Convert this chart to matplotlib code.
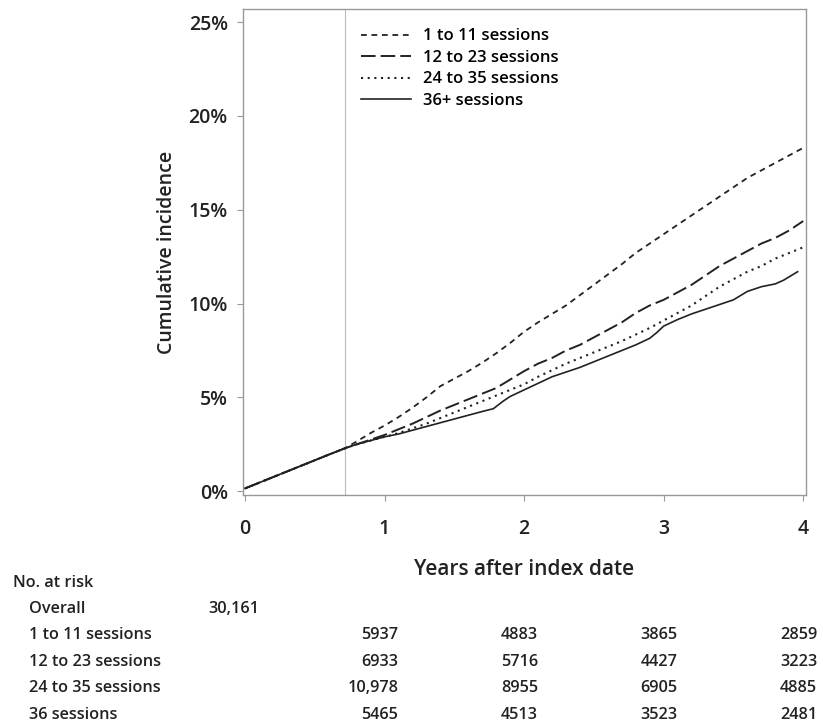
import matplotlib
matplotlib.use("Agg")
import matplotlib.pyplot as plt
from matplotlib.transforms import blended_transform_factory
import numpy as np

plt.rcParams["font.family"] = ["Open Sans", "DejaVu Sans"]
plt.rcParams["font.weight"] = "semibold"
plt.rcParams["axes.labelweight"] = "semibold"

# shared part of the curve before the split (years, %)
t_common = [0.0, 0.1, 0.2, 0.3, 0.4, 0.5, 0.6, 0.72]
y_common = [0.15, 0.45, 0.75, 1.05, 1.35, 1.65, 1.95, 2.3]

t_grp = [0.8, 0.9, 1.0, 1.1, 1.2, 1.3, 1.4, 1.5, 1.6, 1.7, 1.8, 1.9, 2.0,
         2.1, 2.2, 2.3, 2.4, 2.5, 2.6, 2.7, 2.8, 2.9, 3.0, 3.1, 3.2, 3.3,
         3.4, 3.5, 3.6, 3.7, 3.8, 3.9, 4.0]
y_1_11 = [2.65, 3.1, 3.5, 3.95, 4.45, 5.0, 5.6, 6.0, 6.4, 6.85, 7.35, 7.9, 8.5,
          9.0, 9.45, 9.9, 10.45, 11.0, 11.55, 12.1, 12.7, 13.2, 13.7, 14.2,
          14.7, 15.2, 15.7, 16.2, 16.7, 17.1, 17.5, 17.9, 18.3]
y_12_23 = [2.5, 2.75, 3.0, 3.3, 3.6, 3.95, 4.3, 4.6, 4.9, 5.2, 5.5, 5.95, 6.4,
           6.8, 7.1, 7.5, 7.8, 8.2, 8.6, 9.0, 9.5, 9.9, 10.2, 10.6, 11.0,
           11.5, 12.0, 12.4, 12.8, 13.2, 13.5, 13.9, 14.4]
y_24_35 = [2.5, 2.7, 2.9, 3.1, 3.35, 3.6, 3.9, 4.2, 4.5, 4.8, 5.1, 5.4, 5.7,
           6.1, 6.45, 6.8, 7.1, 7.4, 7.7, 8.0, 8.35, 8.7, 9.1, 9.5, 9.9,
           10.4, 10.9, 11.3, 11.7, 12.0, 12.4, 12.7, 13.0]
t_36 = [0.8, 0.9, 1.0, 1.1, 1.2, 1.3, 1.4, 1.5, 1.6, 1.7, 1.78, 1.85, 1.9,
        2.0, 2.1, 2.2, 2.3, 2.4, 2.5, 2.6, 2.7, 2.8, 2.9, 2.95, 3.0, 3.1,
        3.2, 3.3, 3.4, 3.5, 3.6, 3.7, 3.8, 3.86, 3.96]
y_36 = [2.5, 2.7, 2.9, 3.05, 3.25, 3.45, 3.65, 3.85, 4.05, 4.25, 4.4, 4.8,
        5.05, 5.4, 5.75, 6.1, 6.35, 6.6, 6.9, 7.2, 7.5, 7.8, 8.15, 8.45, 8.8,
        9.15, 9.45, 9.7, 9.95, 10.2, 10.65, 10.9, 11.05, 11.25, 11.7]

split_year = 0.72

risk_years = [0, 1, 2, 3, 4]
risk_overall = "30,161"
risk_labels = ["1 to 11 sessions", "12 to 23 sessions", "24 to 35 sessions", "36 sessions"]
risk_counts = [
    ["5937", "4883", "3865", "2859"],
    ["6933", "5716", "4427", "3223"],
    ["10,978", "8955", "6905", "4885"],
    ["5465", "4513", "3523", "2481"],
]

fig = plt.figure(figsize=(8.23, 7.28), dpi=100)
ax = fig.add_axes([243 / 823, 1 - 495 / 728, 563 / 823, 486 / 728])

col = "#222222"
series = [
    ("1 to 11 sessions", t_grp, y_1_11, (3.2, 2.6), 1.3),
    ("12 to 23 sessions", t_grp, y_12_23, (7.5, 2.6), 1.4),
    ("24 to 35 sessions", t_grp, y_24_35, (1.0, 2.2), 1.5),
    ("36+ sessions", t_36, y_36, None, 1.2),
]
for name, tt, yy, dash, lw in series:
    x = np.array(t_common + tt)
    y = np.array(y_common + yy)
    if dash is None:
        ax.plot(x, y, color=col, lw=lw, label=name)
    else:
        ax.plot(x, y, color=col, lw=lw, dashes=dash, label=name)

ax.axvline(split_year, color="#bbbbbb", lw=0.8, zorder=0)

ax.set_xlim(-0.014, 4.02)
ax.set_ylim(-0.2, 25.7)
ax.set_xticks([0, 1, 2, 3, 4])
ax.set_yticks([0, 5, 10, 15, 20, 25])
ax.set_yticklabels(["0%", "5%", "10%", "15%", "20%", "25%"])
for s in ax.spines.values():
    s.set_color("#999999")
    s.set_linewidth(1.0)
ax.tick_params(axis="both", colors="#999999", labelcolor="#222222",
               labelsize=14, length=4, width=0.8)
ax.tick_params(axis="x", pad=13)
ax.tick_params(axis="y", pad=7)

ax.set_ylabel("Cumulative incidence", fontsize=14, color="#222222", labelpad=8)
ax.set_xlabel("Years after index date", fontsize=15, color="#222222", labelpad=15)

ax.legend(loc="upper left", bbox_to_anchor=(0.209, 0.96), frameon=False,
          fontsize=12, handlelength=3.0, handletextpad=0.75, labelspacing=0.33,
          borderpad=0, borderaxespad=0)

# number at risk table
tr = blended_transform_factory(ax.transData, fig.transFigure)
def fy(py):
    return 1 - py / 728

fs = 11.7
fig.text(13 / 823, fy(583), "No. at risk", fontsize=fs, va="center", color="#222222")
fig.text(29 / 823, fy(609), "Overall", fontsize=fs, va="center", color="#222222")
ax.text(risk_years[0] + 0.1, fy(609), risk_overall, transform=tr, fontsize=fs,
        ha="right", va="center", color="#222222")
for i, lab in enumerate(risk_labels):
    py = 635 + i * 26.7
    fig.text(29 / 823, fy(py), lab, fontsize=fs, va="center", color="#222222")
    for j, v in enumerate(risk_counts[i]):
        ax.text(risk_years[j + 1] + 0.1, fy(py), v, transform=tr, fontsize=fs,
                ha="right", va="center", color="#222222")

fig.savefig("out.png", dpi=100)
